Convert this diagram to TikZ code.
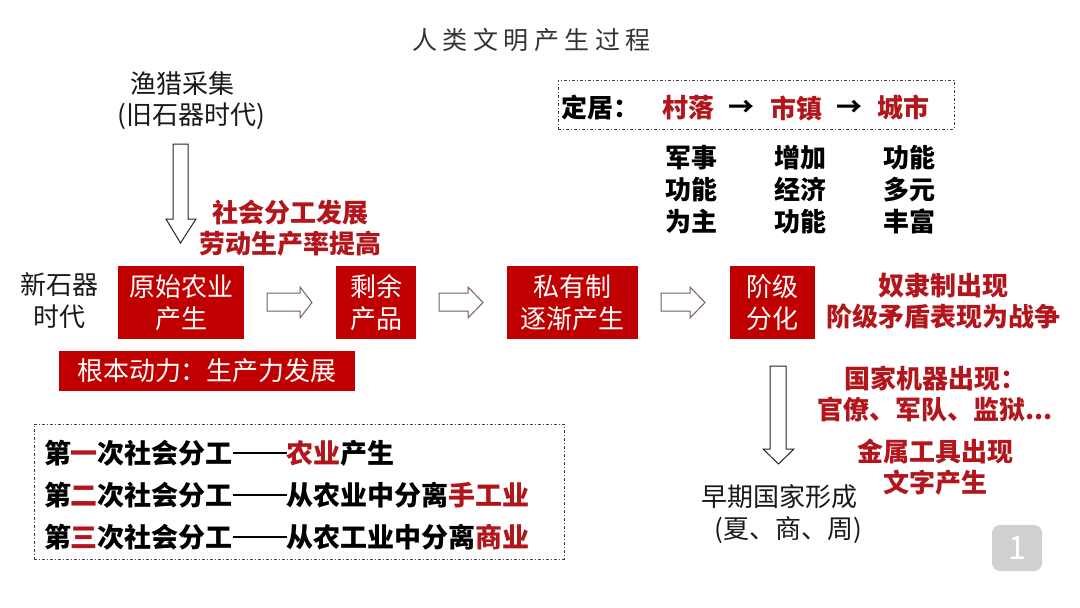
\documentclass[tikz,border=0pt]{standalone}
\usepackage{fontspec}
\setmainfont{Noto Sans CJK SC}
\definecolor{boxred}{RGB}{192,0,0}
\definecolor{txtred}{RGB}{178,22,28}
\definecolor{arrgray}{RGB}{120,95,95}
\definecolor{numgray}{RGB}{208,208,208}
\newcommand{\longdash}{\rule[0.34em]{2em}{0.085em}}
\begin{document}
\begin{tikzpicture}[x=1pt,y=-1pt,
  every node/.style={inner sep=0pt, outer sep=0pt},
  redbox/.style={fill=boxred, text=white, font=\fontsize{26}{32}\selectfont, align=center},
  redtxt/.style={text=txtred, font=\bfseries\fontsize{26}{31}\selectfont, align=center},
  plain/.style={text=black!90, font=\fontsize{26}{32}\selectfont, align=center},
  boldblk/.style={text=black, font=\bfseries\fontsize{26}{32}\selectfont, align=center},
  ddbox/.style={draw=black!75, line width=0.8pt, dash pattern=on 3pt off 2pt on 1pt off 2pt},
  hollow/.style={draw=arrgray, fill=white, line width=1pt, line join=miter},
  hollowd/.style={draw=black!85, fill=white, line width=1pt, line join=miter}]
\useasboundingbox[fill=white] (0,0) rectangle (1080,608);
\def\tsp{\hspace{5.5pt}}
% title
\node[text=black!80, font=\fontsize{25}{30}\selectfont] (title) at (531.5,40) {人\tsp 类\tsp 文\tsp 明\tsp 产\tsp 生\tsp 过\tsp 程};
% top-left texts
\node[plain] (fish) at (182,84) {渔猎采集};
\node[plain] (fish2) at (191,116) {(旧石器时代)};
\node[plain] (neo) at (59,301) {新石器\\时代};
\node[redtxt] (social) at (290,228) {社会分工发展\\劳动生产率提高};
% main boxes
\node[redbox, minimum width=126, minimum height=73] (b1) at (181,302.5) {原始农业\\产生};
\node[redbox, minimum width=80, minimum height=73] (b2) at (376,302.5) {剩余\\产品};
\node[redbox, minimum width=131, minimum height=73] (b3) at (572.5,302.5) {私有制\\逐渐产生};
\node[redbox, minimum width=85, minimum height=73] (b4) at (772.5,302.5) {阶级\\分化};
\node[redbox, minimum width=296, minimum height=40] (force) at (207,371) {根本动力：生产力发展};
% hollow right arrows
\draw[hollow] (267,293) -- (300,293) -- (300,287) -- (312,302.5) -- (300,318) -- (300,311) -- (267,311) -- cycle;
\draw[hollow] (439,293) -- (468,293) -- (468,287) -- (483,302.5) -- (468,318) -- (468,311) -- (439,311) -- cycle;
\draw[hollow] (661,293) -- (690,293) -- (690,287) -- (705,302.5) -- (690,318) -- (690,311) -- (661,311) -- cycle;
% hollow down arrows
\draw[hollowd] (173,144) -- (188,144) -- (188,219) -- (196,219) -- (180.5,243) -- (166,219) -- (173,219) -- cycle;
\draw[hollowd] (770,366) -- (786,366) -- (786,449) -- (794,449) -- (778.5,464) -- (763,449) -- (770,449) -- cycle;
% right of class box
\node[redtxt] (slave) at (943,301) {奴隶制出现\\阶级矛盾表现为战争};
% settlement box
\node[ddbox, minimum width=396, minimum height=49] (settle) at (756,104.5) {};
\node[boldblk] (ding) at (600,108) {定居：};
\node[redtxt] (cun) at (688,108) {村落};
\node[boldblk] (ar1) at (741,108) {→};
\node[redtxt] (shi) at (796,108) {市镇};
\node[boldblk] (ar2) at (849,108) {→};
\node[redtxt] (cheng) at (903,108) {城市};
\node[boldblk] (c1) at (691,190) {军事\\功能\\为主};
\node[boldblk] (c2) at (800,190) {增加\\经济\\功能};
\node[boldblk] (c3) at (909,190) {功能\\多元\\丰富};
% state
\node[redtxt] (machine) at (935,394) {国家机器出现：\\官僚、军队、监狱...};
\node[redtxt] (metal) at (935,467.5) {金属工具出现\\文字产生};
\node[plain] (state) at (779,497) {早期国家形成};
\node[plain] (state2) at (788,530) {(夏、商、周)};
% division of labour box
\node[ddbox, minimum width=530, minimum height=135] (labour) at (299,491.5) {};
\node[text=black, font=\bfseries\fontsize{27}{42}\selectfont, align=left, anchor=west] (lines) at (44,495)
  {第{\color{txtred}一}次社会分工\longdash{\color{txtred}农业}产生\\
   第{\color{txtred}二}次社会分工\longdash 从农业中分离{\color{txtred}手工业}\\
   第{\color{txtred}三}次社会分工\longdash 从农工业中分离{\color{txtred}商业}};
% page number
\node[fill=numgray, rounded corners=8pt, minimum width=50, minimum height=46, text=white, font=\fontsize{32}{36}\selectfont] (num) at (1017,548) {1};
\end{tikzpicture}
\end{document}
